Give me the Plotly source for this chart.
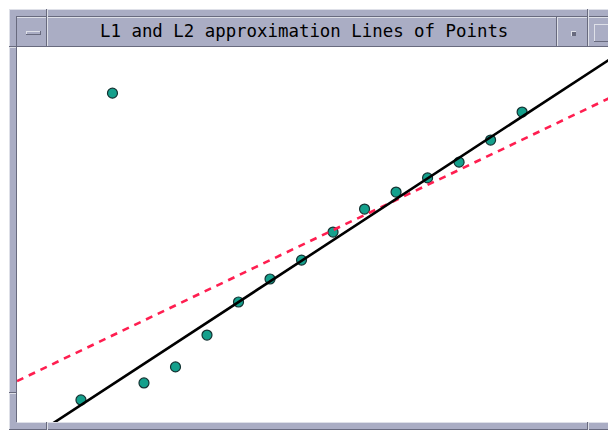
import plotly.graph_objects as go

# ---- data ----
x_vals = list(range(1, 16))
y_vals = [0.70, 10.44, 1.24, 1.75, 2.76, 3.81, 4.54, 5.14, 6.03, 6.76, 7.30, 7.75, 8.25, 8.95, 9.84]
l1_slope, l1_intercept = 0.654, -0.115   # L1 (least absolute deviation) line
l2_slope, l2_intercept = 0.478, 1.79     # L2 (least squares) line
title_text = "L1 and L2 approximation Lines of Points"

X_RANGE = [-1.03, 17.98]
Y_RANGE = [0.0, 11.905]

# ---- geometry in page pixels (page body has an 8px margin) ----
OFF = 8
W, H = 616 - OFF, 430 - OFF
L, R, T, B = 17, 616, 47, 422   # plot area in page pixels

def pxx(x):
    return (x - L) / (R - L)

def pxy(y):
    return (B - y) / (B - T)

GRAY = "rgb(170,173,196)"
DARK = "rgb(104,106,126)"
LIGHT = "rgb(222,224,232)"

shapes = []

def rect(x0, y0, x1, y1, fill):
    shapes.append(dict(type="rect", xref="paper", yref="paper",
                       x0=pxx(x0), x1=pxx(x1), y0=pxy(y0), y1=pxy(y1),
                       fillcolor=fill, line=dict(width=0), layer="above"))

def seg(x0, y0, x1, y1, color, width=1):
    shapes.append(dict(type="line", xref="paper", yref="paper",
                       x0=pxx(x0), x1=pxx(x1), y0=pxy(y0), y1=pxy(y1),
                       line=dict(color=color, width=width), layer="above"))

# window frame
rect(9, 9, 616, 47, GRAY)
rect(9, 47, 17, 430, GRAY)
rect(17, 422, 616, 430, GRAY)
# outer highlight
seg(9, 9.5, 616, 9.5, LIGHT)
seg(9.5, 9, 9.5, 430, LIGHT)
# inner shadow
seg(16, 16.5, 616, 16.5, DARK)
seg(16.5, 16, 16.5, 422, DARK)
# title bar edges
seg(17, 17.5, 616, 17.5, LIGHT)
seg(17, 46.5, 616, 46.5, DARK)
# bottom frame
seg(17, 422.5, 616, 422.5, LIGHT)
seg(9, 429.5, 616, 429.5, DARK)
# corner breaks
for xb in (47, 588):
    seg(xb - 0.5, 9, xb - 0.5, 46, DARK)
    seg(xb + 0.5, 9, xb + 0.5, 46, LIGHT)
    seg(xb - 0.5, 422, xb - 0.5, 430, DARK)
    seg(xb + 0.5, 422, xb + 0.5, 430, LIGHT)
seg(556.5, 17, 556.5, 46, DARK)
seg(557.5, 17, 557.5, 46, LIGHT)
for yb in (47, 393):
    seg(9, yb - 0.5, 16, yb - 0.5, DARK)
    seg(9, yb + 0.5, 16, yb + 0.5, LIGHT)

# minimize bar icon
rect(26, 31, 41, 35, GRAY)
seg(26, 31.5, 41, 31.5, LIGHT)
seg(26.5, 31, 26.5, 35, LIGHT)
seg(26, 34.5, 41, 34.5, DARK)
seg(40.5, 31, 40.5, 35, DARK)
# dot icon
rect(571, 31, 576, 36, DARK)
seg(571, 31.5, 576, 31.5, LIGHT)
seg(571.5, 31, 571.5, 36, LIGHT)
# maximize icon
seg(594, 24.5, 613, 24.5, LIGHT)
seg(594.5, 24, 594.5, 42, LIGHT)
seg(594, 41.5, 613, 41.5, DARK)
seg(612.5, 24, 612.5, 42, DARK)

fig = go.Figure()

fig.add_trace(go.Scatter(
    x=x_vals, y=y_vals, mode="markers",
    marker=dict(size=10, color="rgb(20,160,140)",
                line=dict(color="rgb(20,50,50)", width=1.2)),
    showlegend=False, hoverinfo="skip"))

fig.add_trace(go.Scatter(
    x=X_RANGE, y=[l2_slope * v + l2_intercept for v in X_RANGE],
    mode="lines", line=dict(color="rgb(255,30,80)", width=2.6, dash="7px,6px"),
    showlegend=False, hoverinfo="skip"))

fig.add_trace(go.Scatter(
    x=X_RANGE, y=[l1_slope * v + l1_intercept for v in X_RANGE],
    mode="lines", line=dict(color="black", width=2.6),
    showlegend=False, hoverinfo="skip"))

fig.update_layout(
    width=W, height=H,
    margin=dict(l=L - OFF, r=0, t=T - OFF, b=(430 - B), pad=0),
    paper_bgcolor="white", plot_bgcolor="white",
    xaxis=dict(range=X_RANGE, visible=False, showgrid=False, zeroline=False),
    yaxis=dict(range=Y_RANGE, visible=False, showgrid=False, zeroline=False),
    shapes=shapes,
    annotations=[dict(
        text=title_text, xref="paper", yref="paper",
        x=pxx(304), y=pxy(31), xanchor="center", yanchor="middle",
        showarrow=False,
        font=dict(family="DejaVu Sans Mono", size=17.4, color="black"))],
)

fig.write_html("out.html",
               post_script="document.documentElement.style.overflow='hidden';")
